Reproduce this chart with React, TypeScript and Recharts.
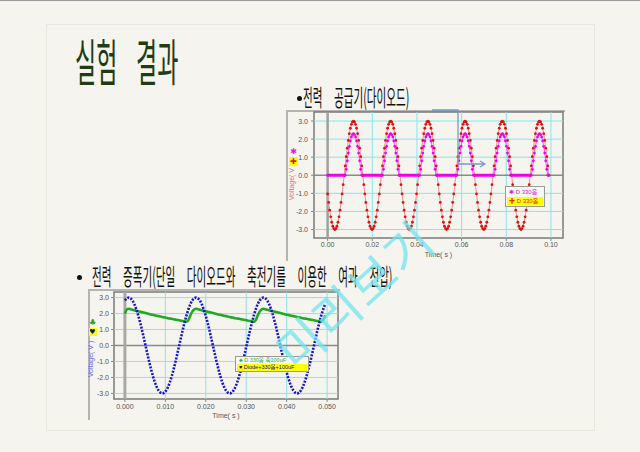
import React from "react";
import { LineChart, Line, XAxis, YAxis, ReferenceLine, ReferenceArea } from "recharts";

// logger sample interval: 36 samples per 60 Hz cycle
const SAMPLE_DT = 1 / 60 / 36;

// top chart: source voltage and voltage after the diode (V)
const TOP_VIN = [
  -1.03, -1.5, -1.93, -2.3, -2.6, -2.82, -2.95, -3, -2.95, -2.82, -2.6, -2.3, -1.93, -1.5, -1.03, -0.52, 0, 0.52, 1.03, 1.5, 1.93, 2.3, 2.6, 2.82, 2.95, 3, 2.95, 2.82, 2.6, 2.3, 1.93, 1.5, 1.03, 0.52, 0, -0.52,
  -1.03, -1.5, -1.93, -2.3, -2.6, -2.82, -2.95, -3, -2.95, -2.82, -2.6, -2.3, -1.93, -1.5, -1.03, -0.52, 0, 0.52, 1.03, 1.5, 1.93, 2.3, 2.6, 2.82, 2.95, 3, 2.95, 2.82, 2.6, 2.3, 1.93, 1.5, 1.03, 0.52, 0, -0.52,
  -1.03, -1.5, -1.93, -2.3, -2.6, -2.82, -2.95, -3, -2.95, -2.82, -2.6, -2.3, -1.93, -1.5, -1.03, -0.52, 0, 0.52, 1.03, 1.5, 1.93, 2.3, 2.6, 2.82, 2.95, 3, 2.95, 2.82, 2.6, 2.3, 1.93, 1.5, 1.03, 0.52, 0, -0.52,
  -1.03, -1.5, -1.93, -2.3, -2.6, -2.82, -2.95, -3, -2.95, -2.82, -2.6, -2.3, -1.93, -1.5, -1.03, -0.52, 0, 0.52, 1.03, 1.5, 1.93, 2.3, 2.6, 2.82, 2.95, 3, 2.95, 2.82, 2.6, 2.3, 1.93, 1.5, 1.03, 0.52, 0, -0.52,
  -1.03, -1.5, -1.93, -2.3, -2.6, -2.82, -2.95, -3, -2.95, -2.82, -2.6, -2.3, -1.93, -1.5, -1.03, -0.52, 0, 0.52, 1.03, 1.5, 1.93, 2.3, 2.6, 2.82, 2.95, 3, 2.95, 2.82, 2.6, 2.3, 1.93, 1.5, 1.03, 0.52, 0, -0.52,
  -1.03, -1.5, -1.93, -2.3, -2.6, -2.82, -2.95, -3, -2.95, -2.82, -2.6, -2.3, -1.93, -1.5, -1.03, -0.52, 0, 0.52, 1.03, 1.5, 1.93, 2.3, 2.6, 2.82, 2.95, 3, 2.95, 2.82, 2.6, 2.3, 1.93, 1.5, 1.03, 0.52, 0,
];
const TOP_VOUT = [
  0, 0, 0, 0, 0, 0, 0, 0, 0, 0, 0, 0, 0, 0, 0, 0, 0, 0, 0.33, 0.8, 1.23, 1.6, 1.9, 2.12, 2.25, 2.3, 2.25, 2.12, 1.9, 1.6, 1.23, 0.8, 0.33, 0, 0, 0,
  0, 0, 0, 0, 0, 0, 0, 0, 0, 0, 0, 0, 0, 0, 0, 0, 0, 0, 0.33, 0.8, 1.23, 1.6, 1.9, 2.12, 2.25, 2.3, 2.25, 2.12, 1.9, 1.6, 1.23, 0.8, 0.33, 0, 0, 0,
  0, 0, 0, 0, 0, 0, 0, 0, 0, 0, 0, 0, 0, 0, 0, 0, 0, 0, 0.33, 0.8, 1.23, 1.6, 1.9, 2.12, 2.25, 2.3, 2.25, 2.12, 1.9, 1.6, 1.23, 0.8, 0.33, 0, 0, 0,
  0, 0, 0, 0, 0, 0, 0, 0, 0, 0, 0, 0, 0, 0, 0, 0, 0, 0, 0.33, 0.8, 1.23, 1.6, 1.9, 2.12, 2.25, 2.3, 2.25, 2.12, 1.9, 1.6, 1.23, 0.8, 0.33, 0, 0, 0,
  0, 0, 0, 0, 0, 0, 0, 0, 0, 0, 0, 0, 0, 0, 0, 0, 0, 0, 0.33, 0.8, 1.23, 1.6, 1.9, 2.12, 2.25, 2.3, 2.25, 2.12, 1.9, 1.6, 1.23, 0.8, 0.33, 0, 0, 0,
  0, 0, 0, 0, 0, 0, 0, 0, 0, 0, 0, 0, 0, 0, 0, 0, 0, 0, 0.33, 0.8, 1.23, 1.6, 1.9, 2.12, 2.25, 2.3, 2.25, 2.12, 1.9, 1.6, 1.23, 0.8, 0.33, 0, 0,
];

// bottom chart: source voltage and capacitor voltage (V)
const BOT_VIN = [
  2.82, 2.95, 3, 2.95, 2.82, 2.6, 2.3, 1.93, 1.5, 1.03, 0.52, 0, -0.52, -1.03, -1.5, -1.93, -2.3, -2.6, -2.82, -2.95, -3, -2.95, -2.82, -2.6, -2.3, -1.93, -1.5, -1.03, -0.52, 0, 0.52, 1.03, 1.5, 1.93, 2.3, 2.6,
  2.82, 2.95, 3, 2.95, 2.82, 2.6, 2.3, 1.93, 1.5, 1.03, 0.52, 0, -0.52, -1.03, -1.5, -1.93, -2.3, -2.6, -2.82, -2.95, -3, -2.95, -2.82, -2.6, -2.3, -1.93, -1.5, -1.03, -0.52, 0, 0.52, 1.03, 1.5, 1.93, 2.3, 2.6,
  2.82, 2.95, 3, 2.95, 2.82, 2.6, 2.3, 1.93, 1.5, 1.03, 0.52, 0, -0.52, -1.03, -1.5, -1.93, -2.3, -2.6, -2.82, -2.95, -3, -2.95, -2.82, -2.6, -2.3, -1.93, -1.5, -1.03, -0.52, 0, 0.52, 1.03, 1.5, 1.93, 2.3, 2.6,
];
const BOT_VC = [
  2, 2.25,
  2.3, 2.27, 2.24, 2.21, 2.18, 2.14, 2.12, 2.09, 2.06, 2.03, 2, 1.97, 1.94, 1.92, 1.89, 1.86, 1.84, 1.81, 1.79, 1.76, 1.74, 1.71, 1.69, 1.67, 1.64, 1.62, 1.6, 1.58, 1.55, 1.53, 1.51, 1.49,
  1.6, 1.9, 2.12, 2.25,
  2.3, 2.27, 2.24, 2.21, 2.18, 2.14, 2.12, 2.09, 2.06, 2.03, 2, 1.97, 1.94, 1.92, 1.89, 1.86, 1.84, 1.81, 1.79, 1.76, 1.74, 1.71, 1.69, 1.67, 1.64, 1.62, 1.6, 1.58, 1.55, 1.53, 1.51, 1.49,
  1.6, 1.9, 2.12, 2.25,
  2.3, 2.27, 2.24, 2.21, 2.18, 2.14, 2.12, 2.09, 2.06, 2.03, 2, 1.97, 1.94, 1.92, 1.89, 1.86, 1.84, 1.81, 1.79, 1.76, 1.74, 1.71, 1.69, 1.67, 1.64, 1.62, 1.6, 1.58, 1.55, 1.53, 1.51, 1.49,
  1.6, 1.9,
];

const TOP_X_TICKS = [0, 0.02, 0.04, 0.06, 0.08, 0.1];
const BOT_X_TICKS = [0, 0.01, 0.02, 0.03, 0.04, 0.05];
const Y_TICKS = [-3, -2, -1, 0, 1, 2, 3];
const GRID_Y = [-3, -2, -1, 1, 2, 3];

const topData = TOP_VIN.map((v, i) => ({ t: i * SAMPLE_DT, vin: v, vout: TOP_VOUT[i] }));
const botData = BOT_VIN.map((v, i) => ({ t: i * SAMPLE_DT, vin: v, vc: BOT_VC[i] }));

const TOP_XD: [number, number] = [-0.0061, 0.1054];
const TOP_YD: [number, number] = [-3.47, 3.5];
const BOT_XD: [number, number] = [-0.0027, 0.0527];
const BOT_YD: [number, number] = [-3.35, 3.35];

const CYAN = "#86e6ef";
const KR = '"Noto Sans CJK KR", sans-serif';
const SANS = '"Liberation Sans", Arial, "Noto Sans CJK KR", sans-serif';
const tickStyle = { fontSize: 7, fill: "#555", fontFamily: SANS };

const abs = (left: number, top: number, extra: React.CSSProperties = {}): React.CSSProperties => ({
  position: "absolute",
  left,
  top,
  ...extra,
});

function Heading({ left, top, bullet, text }: { left: number; top: number; bullet: number; text: string }) {
  return (
    <>
      <div style={abs(bullet - 2.5, top + 13, { width: 5, height: 5, borderRadius: 3, background: "#111" })} />
      <div
        style={abs(left, top, {
          fontFamily: KR,
          fontSize: 23,
          lineHeight: "26px",
          color: "#111",
          whiteSpace: "pre",
          wordSpacing: 20,
          transform: "scaleX(0.46)",
          transformOrigin: "0 0",
        })}
      >
        {text}
      </div>
    </>
  );
}

function YTitle({ x, y, color }: { x: number; y: number; color: string }) {
  return (
    <div
      style={abs(x - 21, y - 4, {
        width: 42,
        height: 8,
        lineHeight: "8px",
        textAlign: "center",
        fontFamily: SANS,
        fontSize: 7,
        color,
        transform: "rotate(-90deg)",
        whiteSpace: "nowrap",
      })}
    >
      Voltage( V )
    </div>
  );
}

export default function App() {
  return (
    <div
      style={{
        position: "absolute",
        left: 0,
        top: 0,
        width: 640,
        height: 452,
        background: "#f5f4ee",
        overflow: "hidden",
        borderTop: "1px solid #9a9a9a",
        boxSizing: "border-box",
      }}
    >
      <div style={abs(46, 23, { width: 547, height: 405, border: "1px solid #e8e7dc" })} />

      {/* title */}
      <div style={abs(75, 28, { fontFamily: KR, fontSize: 50, lineHeight: "60px", color: "#213c14", transform: "scaleX(0.46)", transformOrigin: "0 0", whiteSpace: "nowrap" })}>
        실험
      </div>
      <div style={abs(136, 28, { fontFamily: KR, fontSize: 50, lineHeight: "60px", color: "#213c14", transform: "scaleX(0.46)", transformOrigin: "0 0", whiteSpace: "nowrap" })}>
        결과
      </div>

      <Heading left={303} top={82} bullet={299} text="전력 공급기(다이오드)" />
      <Heading left={92} top={261} bullet={79} text="전력 증폭기(단일 다이오드와 축전기를 이용한 여과 전압)" />

      {/* top chart */}
      <div style={abs(286, 109, { width: 279, height: 151, borderLeft: "2px solid #b4b4b4", borderTop: "2px solid #b4b4b4", boxSizing: "border-box" })} />
      <div style={abs(286, 108)}>
        <LineChart width={280} height={150} data={topData} margin={{ top: 3, right: 3, bottom: 0, left: 0 }}>
          <XAxis
            type="number"
            dataKey="t"
            domain={TOP_XD}
            allowDataOverflow
            ticks={TOP_X_TICKS}
            tickFormatter={(v: number) => v.toFixed(2)}
            height={21}
            axisLine={false}
            tickSize={3}
            tickMargin={1}
            tickLine={{ stroke: "#888" }}
            tick={tickStyle}
            label={{ value: "Time( s )", position: "insideBottom", offset: 2, fontSize: 7, fill: "#555", fontFamily: SANS }}
          />
          <YAxis
            type="number"
            domain={TOP_YD}
            allowDataOverflow
            ticks={Y_TICKS}
            tickFormatter={(v: number) => v.toFixed(1)}
            width={28}
            axisLine={false}
            tickSize={3}
            tickMargin={3}
            tickLine={{ stroke: "#888" }}
            tick={tickStyle}
          />
          {GRID_Y.map((v) => (
            <ReferenceLine key={"y" + v} y={v} stroke={CYAN} strokeWidth={1} />
          ))}
          {TOP_X_TICKS.slice(1).map((v) => (
            <ReferenceLine key={"x" + v} x={v} stroke={CYAN} strokeWidth={1} />
          ))}
          <ReferenceLine y={0} stroke="#8a8a8a" strokeWidth={1.5} />
          <ReferenceLine x={0} stroke="#a0a0a0" strokeWidth={2.5} />
          <ReferenceArea x1={TOP_XD[0]} x2={TOP_XD[1]} y1={TOP_YD[0]} y2={TOP_YD[1]} fill="none" stroke="#7a7a7a" strokeWidth={1.5} />
          <Line
            dataKey="vin"
            type="linear"
            stroke="#f09090"
            strokeWidth={1}
            dot={{ r: 1.4, fill: "#e01010", stroke: "none" }}
            isAnimationActive={false}
          />
          <Line
            dataKey="vout"
            type="linear"
            stroke="#ff50ff"
            strokeWidth={1}
            dot={{ r: 1.4, fill: "#ee00ee", stroke: "none" }}
            isAnimationActive={false}
          />
        </LineChart>
      </div>
      <YTitle x={292} y={181} color="#e86f6f" />
      <div style={abs(289, 146, { width: 9, textAlign: "center", fontSize: 8, lineHeight: "9px", color: "#e020e0", fontFamily: '"DejaVu Sans"' })}>✱</div>
      <div style={abs(289, 156, { width: 9, height: 9, background: "#ffff00", textAlign: "center", fontSize: 8, lineHeight: "9px", color: "#e02000", fontFamily: '"DejaVu Sans"' })}>✚</div>
      <div
        style={abs(505, 185, {
          width: 36,
          border: "1px solid #9a9a9a",
          background: "#f7f7f3",
          fontFamily: SANS,
          fontSize: 6,
          lineHeight: "8.5px",
          padding: "1px 1px",
          whiteSpace: "nowrap",
        })}
      >
        <div style={{ color: "#e020e0", paddingLeft: 2 }}>✱ D 330옴</div>
        <div style={{ color: "#d83000", background: "#ffff00", paddingLeft: 2 }}>✚ D 330옴</div>
      </div>

      {/* arrow annotation */}
      <svg width={640} height={452} style={abs(0, 0, { pointerEvents: "none" })}>
        <polyline points="432,109 458,109 458,163 484,163" fill="none" stroke="#6f9bd6" strokeWidth={1.3} />
        <polyline points="480,160 485,163 480,166" fill="none" stroke="#6f9bd6" strokeWidth={1.2} />
      </svg>

      {/* bottom chart */}
      <div style={abs(88, 288, { width: 252, height: 131, borderLeft: "2px solid #b4b4b4", borderTop: "2px solid #b4b4b4", boxSizing: "border-box" })} />
      <div style={abs(88, 288)}>
        <LineChart width={252} height={132} data={botData} margin={{ top: 3, right: 2, bottom: 0, left: 0 }}>
          <XAxis
            type="number"
            dataKey="t"
            domain={BOT_XD}
            allowDataOverflow
            ticks={BOT_X_TICKS}
            tickFormatter={(v: number) => v.toFixed(3)}
            height={22}
            axisLine={false}
            tickSize={3}
            tickMargin={2}
            tickLine={{ stroke: "#888" }}
            tick={tickStyle}
            label={{ value: "Time( s )", position: "insideBottom", offset: 3, fontSize: 7, fill: "#555", fontFamily: SANS }}
          />
          <YAxis
            type="number"
            domain={BOT_YD}
            allowDataOverflow
            ticks={Y_TICKS}
            tickFormatter={(v: number) => v.toFixed(1)}
            width={26}
            axisLine={false}
            tickSize={3}
            tickMargin={2}
            tickLine={{ stroke: "#888" }}
            tick={tickStyle}
          />
          {GRID_Y.map((v) => (
            <ReferenceLine key={"y" + v} y={v} stroke={CYAN} strokeWidth={1} />
          ))}
          {BOT_X_TICKS.slice(1).map((v) => (
            <ReferenceLine key={"x" + v} x={v} stroke={CYAN} strokeWidth={1} />
          ))}
          <ReferenceLine y={0} stroke="#8a8a8a" strokeWidth={1.5} />
          <ReferenceLine x={0} stroke="#a8a8a8" strokeWidth={3} />
          <ReferenceArea x1={BOT_XD[0]} x2={BOT_XD[1]} y1={BOT_YD[0]} y2={BOT_YD[1]} fill="none" stroke="#7a7a7a" strokeWidth={1.5} />
          <Line dataKey="vc" type="monotone" stroke="#22a822" strokeWidth={2.6} dot={false} isAnimationActive={false} />
          <Line
            dataKey="vin"
            type="monotone"
            stroke="#1515d0"
            strokeWidth={2.6}
            strokeDasharray="2 1.4"
            dot={false}
            isAnimationActive={false}
          />
        </LineChart>
      </div>
      <YTitle x={91} y={358} color="#6b6be0" />
      <div style={abs(88.5, 317, { width: 8, textAlign: "center", fontSize: 8, lineHeight: "9px", color: "#20a020", fontFamily: '"DejaVu Sans"' })}>♣</div>
      <div style={abs(88.5, 327, { width: 8, height: 8, background: "#ffff00", textAlign: "center", fontSize: 7, lineHeight: "8px", color: "#101080", fontFamily: '"DejaVu Sans"' })}>♥</div>
      <div
        style={abs(235, 355, {
          width: 70,
          border: "1px solid #9a9a9a",
          background: "#f7f7f3",
          fontFamily: SANS,
          fontSize: 5.5,
          lineHeight: "7px",
          padding: "0px 1px",
          whiteSpace: "nowrap",
        })}
      >
        <div style={{ color: "#30b030", paddingLeft: 2 }}>♣ D 330옴 축100uF</div>
        <div style={{ color: "#101080", background: "#ffff00", paddingLeft: 2 }}>♥ Diode+330옴+100uF</div>
      </div>

      {/* watermark */}
      <div
        style={abs(353, 292, {
          transform: "translate(-50%, -50%) rotate(-42deg)",
          fontFamily: KR,
          fontSize: 50,
          lineHeight: "56px",
          color: "rgba(115, 228, 240, 0.75)",
          whiteSpace: "nowrap",
          letterSpacing: 2,
          pointerEvents: "none",
        })}
      >
        미리보기
      </div>
    </div>
  );
}
